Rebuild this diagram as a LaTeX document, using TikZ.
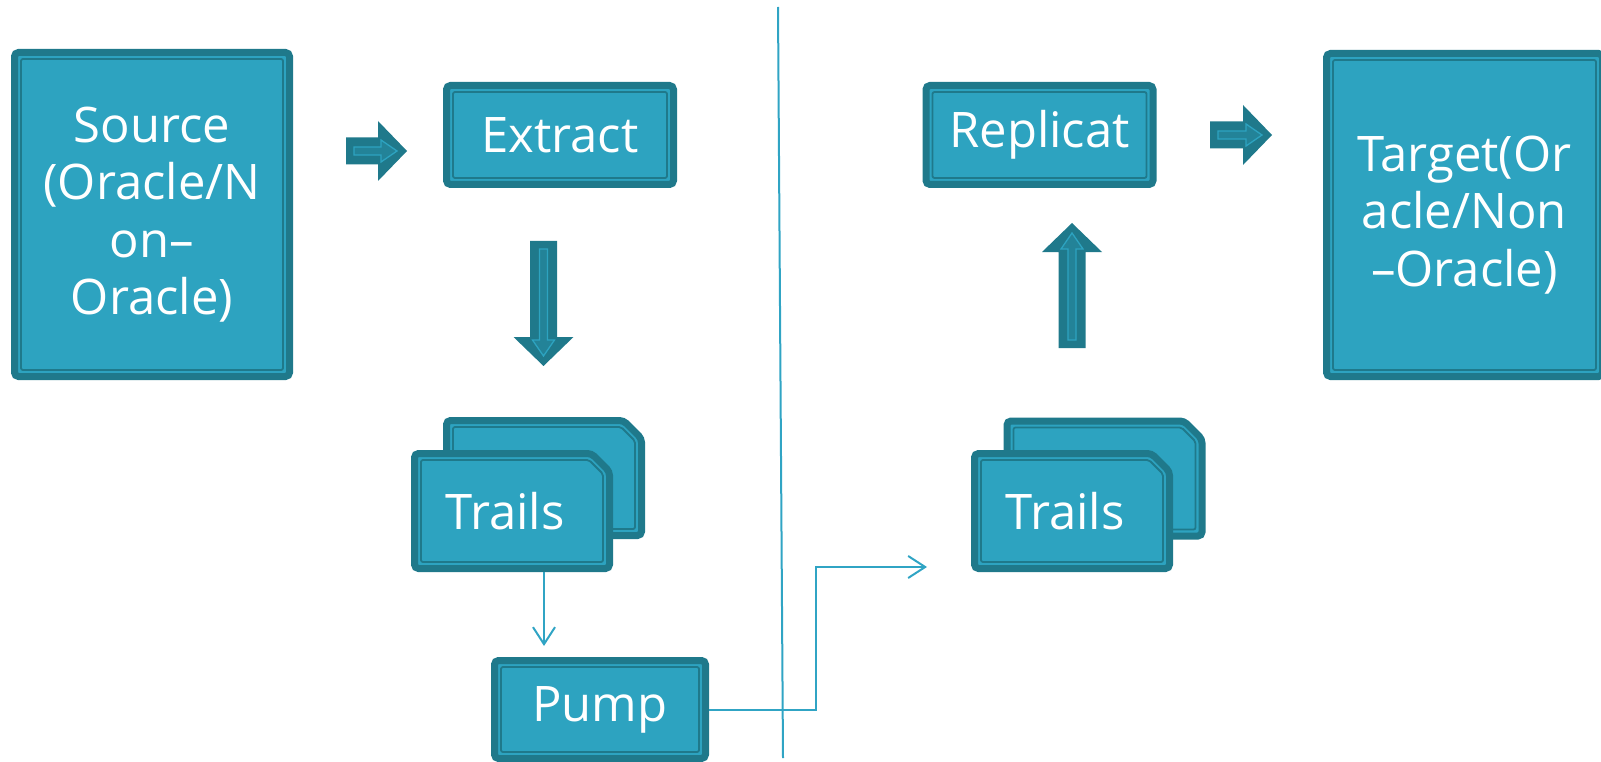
\documentclass[tikz,border=0pt]{standalone}
\usepackage{fontspec}
\setmainfont{Open Sans}
\usetikzlibrary{arrows.meta,calc}
\definecolor{ltc}{RGB}{45,163,192}
\definecolor{dkc}{RGB}{31,121,139}
\definecolor{lnc}{RGB}{48,164,196}
\newcommand\blockarr[4]{%
\begin{scope}[shift={(#1,#2)}, rotate=#3]
\fill[dkc] (0,-13.5) -- ({#4-29},-13.5) -- ({#4-29},-30) -- (#4,0) -- ({#4-29},30) -- ({#4-29},13.5) -- (0,13.5) -- cycle;
\draw[ltc, line width=1.3pt, fill=dkc!75!ltc] (8,-4) -- ({#4-26},-4) -- ({#4-26},-11) -- ({#4-10},0) -- ({#4-26},11) -- ({#4-26},4) -- (8,4) -- cycle;
\end{scope}}
% chamfered "trail" box: #1 name, #2 x, #3 y, #4 text
\newcommand\trailbox[4]{%
\begin{scope}[shift={(#2,#3)}]
\draw[dkc, line width=7pt, fill=ltc, rounded corners=4pt]
  (-97.5,-57.5) -- (79.5,-57.5) -- (97.5,-39.5) -- (97.5,57.5) -- (-97.5,57.5) -- cycle;
\draw[dkc, line width=1.8pt, rounded corners=2pt]
  (-91,-51) -- (77,-51) -- (91,-37) -- (91,51) -- (-91,51) -- cycle;
\end{scope}
\node[inner sep=0pt, outer sep=0pt, minimum width=202pt, minimum height=122pt,
  text=white, font=\fontsize{49}{57.5}\selectfont] (#1) at (#2,#3) {#4};}
\begin{document}
\begin{tikzpicture}[x=1pt,y=-1pt,
  box/.style={draw=dkc, line width=7pt, fill=ltc, rounded corners=4pt, inner sep=0pt,
    text=white, font=\fontsize{49}{57.5}\selectfont, align=center},
  frame/.style={draw=dkc, line width=1.8pt, inner sep=0pt, rounded corners=2pt},
  conn/.style={lnc, line width=2pt, -{Straight Barb[length=17pt,width=22pt]}},
  sepline/.style={lnc, line width=2pt}]
\useasboundingbox (0,0) rectangle (1601,762);

% separator
\coordinate (vt) at (778,7);
\coordinate (vb) at (783,758);
\draw[sepline] (vt) -- (vb);

% boxes
\node[box, minimum width=275pt, minimum height=324pt] (src) at (152,214.5) {Source\\(Oracle/N\\on–\\Oracle)};
\node[frame, minimum width=262pt, minimum height=311pt] (srcF) at (src) {};

\node[box, minimum width=227pt, minimum height=99pt] (ext) at (560,135) {Extract};
\node[frame, minimum width=214pt, minimum height=86pt] (extF) at (ext) {};

\node[box, minimum width=227pt, minimum height=99pt] (rep) at (1039.5,135) {Replicat};
\node[frame, minimum width=214pt, minimum height=86pt] (repF) at (rep) {};

\node[box, minimum width=276pt, minimum height=323pt] (tgt) at (1464.5,215) {Target(Or\\acle/Non\\–Oracle)};
\node[frame, minimum width=263pt, minimum height=310pt] (tgtF) at (tgt) {};

\node[box, minimum width=211pt, minimum height=98pt] (pmp) at (600,709.5) {Pump};
\node[frame, minimum width=198pt, minimum height=85pt] (pmpF) at (pmp) {};

% trails
\trailbox{trLb}{544}{478}{}
\trailbox{trL}{512}{511}{Trails\hspace*{14pt}}
\trailbox{trRb}{1104.5}{478.5}{}
\trailbox{trR}{1072}{511}{Trails\hspace*{14pt}}

% block arrows
\blockarr{346}{151}{0}{61}
\blockarr{1210}{135}{0}{62}
\blockarr{543.5}{241}{-90}{125}
\blockarr{1072}{348}{90}{125}

% connectors
\coordinate (c1) at ($(trL.south)+(32,0)$);
\draw[conn, shorten >=11pt] (c1) -- (c1 |- pmp.north);
\coordinate (c2) at (927,567);
\draw[conn] (pmp.east) -- ++(107,0) |- (c2);
\end{tikzpicture}
\end{document}
